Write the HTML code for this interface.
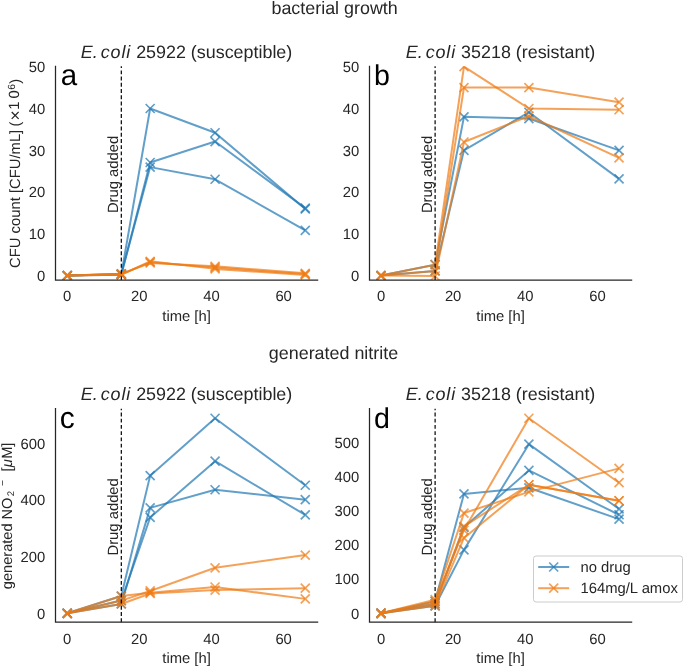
<!DOCTYPE html>
<html><head><meta charset="utf-8"><style>
html,body{margin:0;padding:0;background:#fff;}
svg{display:block;will-change:transform;}
text{font-family:"Liberation Sans", sans-serif;}
</style></head><body>
<svg width="685" height="667" viewBox="0 0 685 667" font-family='"Liberation Sans", sans-serif' text-rendering="geometricPrecision">
<rect width="685" height="667" fill="#fff"/>
<clipPath id="clipa"><rect x="55.5" y="66.3" width="262.1" height="213.8"/></clipPath>
<g clip-path="url(#clipa)">
<path d="M67.20,275.58 L121.31,274.32 L150.16,108.48 L215.09,132.77 L305.26,208.99" fill="none" stroke="#1f77b4" stroke-opacity="0.7" stroke-width="2.0" stroke-linejoin="round" stroke-linecap="butt"/>
<path d="M62.70,271.08L71.70,280.08M62.70,280.08L71.70,271.08M116.81,269.82L125.81,278.82M116.81,278.82L125.81,269.82M145.66,103.98L154.66,112.98M145.66,112.98L154.66,103.98M210.59,128.27L219.59,137.27M210.59,137.27L219.59,128.27M300.76,204.49L309.76,213.49M300.76,213.49L309.76,204.49" fill="none" stroke="#1f77b4" stroke-opacity="0.7" stroke-width="1.7" stroke-linecap="butt"/>
<path d="M67.20,275.58 L121.31,274.74 L150.16,162.51 L215.09,141.57 L305.26,208.15" fill="none" stroke="#1f77b4" stroke-opacity="0.7" stroke-width="2.0" stroke-linejoin="round" stroke-linecap="butt"/>
<path d="M62.70,271.08L71.70,280.08M62.70,280.08L71.70,271.08M116.81,270.24L125.81,279.24M116.81,279.24L125.81,270.24M145.66,158.01L154.66,167.01M145.66,167.01L154.66,158.01M210.59,137.07L219.59,146.07M210.59,146.07L219.59,137.07M300.76,203.65L309.76,212.65M300.76,212.65L309.76,203.65" fill="none" stroke="#1f77b4" stroke-opacity="0.7" stroke-width="1.7" stroke-linecap="butt"/>
<path d="M67.20,275.58 L121.31,273.91 L150.16,167.11 L215.09,179.26 L305.26,230.35" fill="none" stroke="#1f77b4" stroke-opacity="0.7" stroke-width="2.0" stroke-linejoin="round" stroke-linecap="butt"/>
<path d="M62.70,271.08L71.70,280.08M62.70,280.08L71.70,271.08M116.81,269.41L125.81,278.41M116.81,278.41L125.81,269.41M145.66,162.61L154.66,171.61M145.66,171.61L154.66,162.61M210.59,174.76L219.59,183.76M210.59,183.76L219.59,174.76M300.76,225.85L309.76,234.85M300.76,234.85L309.76,225.85" fill="none" stroke="#1f77b4" stroke-opacity="0.7" stroke-width="1.7" stroke-linecap="butt"/>
<path d="M67.20,275.58 L121.31,274.32 L150.16,262.18 L215.09,267.62 L305.26,274.12" fill="none" stroke="#f07a12" stroke-opacity="0.7" stroke-width="2.0" stroke-linejoin="round" stroke-linecap="butt"/>
<path d="M62.70,271.08L71.70,280.08M62.70,280.08L71.70,271.08M116.81,269.82L125.81,278.82M116.81,278.82L125.81,269.82M145.66,257.68L154.66,266.68M145.66,266.68L154.66,257.68M210.59,263.12L219.59,272.12M210.59,272.12L219.59,263.12M300.76,269.62L309.76,278.62M300.76,278.62L309.76,269.62" fill="none" stroke="#f07a12" stroke-opacity="0.7" stroke-width="1.7" stroke-linecap="butt"/>
<path d="M67.20,275.58 L121.31,274.74 L150.16,261.34 L215.09,268.88 L305.26,274.95" fill="none" stroke="#f07a12" stroke-opacity="0.7" stroke-width="2.0" stroke-linejoin="round" stroke-linecap="butt"/>
<path d="M62.70,271.08L71.70,280.08M62.70,280.08L71.70,271.08M116.81,270.24L125.81,279.24M116.81,279.24L125.81,270.24M145.66,256.84L154.66,265.84M145.66,265.84L154.66,256.84M210.59,264.38L219.59,273.38M210.59,273.38L219.59,264.38M300.76,270.45L309.76,279.45M300.76,279.45L309.76,270.45" fill="none" stroke="#f07a12" stroke-opacity="0.7" stroke-width="1.7" stroke-linecap="butt"/>
<path d="M67.20,275.58 L121.31,273.91 L150.16,263.02 L215.09,266.37 L305.26,273.28" fill="none" stroke="#f07a12" stroke-opacity="0.7" stroke-width="2.0" stroke-linejoin="round" stroke-linecap="butt"/>
<path d="M62.70,271.08L71.70,280.08M62.70,280.08L71.70,271.08M116.81,269.41L125.81,278.41M116.81,278.41L125.81,269.41M145.66,258.52L154.66,267.52M145.66,267.52L154.66,258.52M210.59,261.87L219.59,270.87M210.59,270.87L219.59,261.87M300.76,268.78L309.76,277.78M300.76,277.78L309.76,268.78" fill="none" stroke="#f07a12" stroke-opacity="0.7" stroke-width="1.7" stroke-linecap="butt"/>
</g>
<line x1="121.31" y1="280.1" x2="121.31" y2="66.3" stroke="#000" stroke-width="1.2" stroke-dasharray="3.9 2.337"/>
<path d="M55.5,66.3 L55.5,280.1 L317.6,280.1" fill="none" stroke="#262626" stroke-width="1.25" stroke-linecap="square"/>
<text x="67.20" y="301.40" text-anchor="middle" font-size="14.8" fill="#262626">0</text>
<text x="139.34" y="301.40" text-anchor="middle" font-size="14.8" fill="#262626">20</text>
<text x="211.48" y="301.40" text-anchor="middle" font-size="14.8" fill="#262626">40</text>
<text x="283.62" y="301.40" text-anchor="middle" font-size="14.8" fill="#262626">60</text>
<text x="186.55" y="320.80" text-anchor="middle" font-size="14.8" fill="#262626">time [h]</text>
<text x="45.20" y="281.20" text-anchor="end" font-size="14.8" fill="#262626">0</text>
<text x="45.20" y="239.32" text-anchor="end" font-size="14.8" fill="#262626">10</text>
<text x="45.20" y="197.44" text-anchor="end" font-size="14.8" fill="#262626">20</text>
<text x="45.20" y="155.56" text-anchor="end" font-size="14.8" fill="#262626">30</text>
<text x="45.20" y="113.68" text-anchor="end" font-size="14.8" fill="#262626">40</text>
<text x="45.20" y="71.80" text-anchor="end" font-size="14.8" fill="#262626">50</text>
<text x="60.80" y="84.90" font-size="29.5" fill="#000">a</text>
<text x="186.55" y="57.70" text-anchor="middle" font-size="17.9" fill="#262626"><tspan font-style="italic">E.</tspan><tspan font-style="italic" dx="3" letter-spacing="0.9">coli</tspan> 25922 (susceptible)</text>
<text transform="translate(117.91,213.10) rotate(-90)" font-size="14.8" fill="#262626">Drug added</text>
<clipPath id="clipb"><rect x="369.5" y="66.3" width="262.1" height="213.8"/></clipPath>
<g clip-path="url(#clipb)">
<path d="M381.00,275.58 L435.11,264.69 L463.96,116.86 L528.89,118.53 L619.06,150.36" fill="none" stroke="#1f77b4" stroke-opacity="0.7" stroke-width="2.0" stroke-linejoin="round" stroke-linecap="butt"/>
<path d="M376.50,271.08L385.50,280.08M376.50,280.08L385.50,271.08M430.61,260.19L439.61,269.19M430.61,269.19L439.61,260.19M459.46,112.36L468.46,121.36M459.46,121.36L468.46,112.36M524.39,114.03L533.39,123.03M524.39,123.03L533.39,114.03M614.56,145.86L623.56,154.86M614.56,154.86L623.56,145.86" fill="none" stroke="#1f77b4" stroke-opacity="0.7" stroke-width="1.7" stroke-linecap="butt"/>
<path d="M381.00,275.58 L435.11,270.97 L463.96,150.36 L528.89,112.25 L619.06,178.84" fill="none" stroke="#1f77b4" stroke-opacity="0.7" stroke-width="2.0" stroke-linejoin="round" stroke-linecap="butt"/>
<path d="M376.50,271.08L385.50,280.08M376.50,280.08L385.50,271.08M430.61,266.47L439.61,275.47M430.61,275.47L439.61,266.47M459.46,145.86L468.46,154.86M459.46,154.86L468.46,145.86M524.39,107.75L533.39,116.75M524.39,116.75L533.39,107.75M614.56,174.34L623.56,183.34M614.56,183.34L623.56,174.34" fill="none" stroke="#1f77b4" stroke-opacity="0.7" stroke-width="1.7" stroke-linecap="butt"/>
<path d="M381.00,275.58 L435.11,264.69 L463.96,66.60 L528.89,108.48 L619.06,109.74" fill="none" stroke="#f07a12" stroke-opacity="0.7" stroke-width="2.0" stroke-linejoin="round" stroke-linecap="butt"/>
<path d="M376.50,271.08L385.50,280.08M376.50,280.08L385.50,271.08M430.61,260.19L439.61,269.19M430.61,269.19L439.61,260.19M459.46,62.10L468.46,71.10M459.46,71.10L468.46,62.10M524.39,103.98L533.39,112.98M524.39,112.98L533.39,103.98M614.56,105.24L623.56,114.24M614.56,114.24L623.56,105.24" fill="none" stroke="#f07a12" stroke-opacity="0.7" stroke-width="1.7" stroke-linecap="butt"/>
<path d="M381.00,275.58 L435.11,270.97 L463.96,87.54 L528.89,87.54 L619.06,102.20" fill="none" stroke="#f07a12" stroke-opacity="0.7" stroke-width="2.0" stroke-linejoin="round" stroke-linecap="butt"/>
<path d="M376.50,271.08L385.50,280.08M376.50,280.08L385.50,271.08M430.61,266.47L439.61,275.47M430.61,275.47L439.61,266.47M459.46,83.04L468.46,92.04M459.46,92.04L468.46,83.04M524.39,83.04L533.39,92.04M524.39,92.04L533.39,83.04M614.56,97.70L623.56,106.70M614.56,106.70L623.56,97.70" fill="none" stroke="#f07a12" stroke-opacity="0.7" stroke-width="1.7" stroke-linecap="butt"/>
<path d="M381.00,275.58 L435.11,276.00 L463.96,141.98 L528.89,116.02 L619.06,157.90" fill="none" stroke="#f07a12" stroke-opacity="0.7" stroke-width="2.0" stroke-linejoin="round" stroke-linecap="butt"/>
<path d="M376.50,271.08L385.50,280.08M376.50,280.08L385.50,271.08M430.61,271.50L439.61,280.50M430.61,280.50L439.61,271.50M459.46,137.48L468.46,146.48M459.46,146.48L468.46,137.48M524.39,111.52L533.39,120.52M524.39,120.52L533.39,111.52M614.56,153.40L623.56,162.40M614.56,162.40L623.56,153.40" fill="none" stroke="#f07a12" stroke-opacity="0.7" stroke-width="1.7" stroke-linecap="butt"/>
</g>
<line x1="435.11" y1="280.1" x2="435.11" y2="66.3" stroke="#000" stroke-width="1.2" stroke-dasharray="3.9 2.337"/>
<path d="M369.5,66.3 L369.5,280.1 L631.6,280.1" fill="none" stroke="#262626" stroke-width="1.25" stroke-linecap="square"/>
<text x="381.00" y="301.40" text-anchor="middle" font-size="14.8" fill="#262626">0</text>
<text x="453.14" y="301.40" text-anchor="middle" font-size="14.8" fill="#262626">20</text>
<text x="525.28" y="301.40" text-anchor="middle" font-size="14.8" fill="#262626">40</text>
<text x="597.42" y="301.40" text-anchor="middle" font-size="14.8" fill="#262626">60</text>
<text x="500.55" y="320.80" text-anchor="middle" font-size="14.8" fill="#262626">time [h]</text>
<text x="359.20" y="281.20" text-anchor="end" font-size="14.8" fill="#262626">0</text>
<text x="359.20" y="239.32" text-anchor="end" font-size="14.8" fill="#262626">10</text>
<text x="359.20" y="197.44" text-anchor="end" font-size="14.8" fill="#262626">20</text>
<text x="359.20" y="155.56" text-anchor="end" font-size="14.8" fill="#262626">30</text>
<text x="359.20" y="113.68" text-anchor="end" font-size="14.8" fill="#262626">40</text>
<text x="359.20" y="71.80" text-anchor="end" font-size="14.8" fill="#262626">50</text>
<text x="374.10" y="84.90" font-size="28.6" fill="#000">b</text>
<text x="500.55" y="57.70" text-anchor="middle" font-size="17.9" fill="#262626"><tspan font-style="italic">E.</tspan><tspan font-style="italic" dx="3" letter-spacing="0.9">coli</tspan> 35218 (resistant)</text>
<text transform="translate(431.71,213.10) rotate(-90)" font-size="14.8" fill="#262626">Drug added</text>
<clipPath id="clipc"><rect x="55.5" y="408.7" width="262.1" height="213.50000000000006"/></clipPath>
<g clip-path="url(#clipc)">
<path d="M67.20,613.30 L121.31,596.06 L150.16,475.63 L215.09,418.24 L305.26,485.24" fill="none" stroke="#1f77b4" stroke-opacity="0.7" stroke-width="2.0" stroke-linejoin="round" stroke-linecap="butt"/>
<path d="M62.70,608.80L71.70,617.80M62.70,617.80L71.70,608.80M116.81,591.56L125.81,600.56M116.81,600.56L125.81,591.56M145.66,471.13L154.66,480.13M145.66,480.13L154.66,471.13M210.59,413.74L219.59,422.74M210.59,422.74L219.59,413.74M300.76,480.74L309.76,489.74M300.76,489.74L309.76,480.74" fill="none" stroke="#1f77b4" stroke-opacity="0.7" stroke-width="1.7" stroke-linecap="butt"/>
<path d="M67.20,613.30 L121.31,600.58 L150.16,517.46 L215.09,461.21 L305.26,514.92" fill="none" stroke="#1f77b4" stroke-opacity="0.7" stroke-width="2.0" stroke-linejoin="round" stroke-linecap="butt"/>
<path d="M62.70,608.80L71.70,617.80M62.70,617.80L71.70,608.80M116.81,596.08L125.81,605.08M116.81,605.08L125.81,596.08M145.66,512.96L154.66,521.96M145.66,521.96L154.66,512.96M210.59,456.71L219.59,465.71M210.59,465.71L219.59,456.71M300.76,510.42L309.76,519.42M300.76,519.42L309.76,510.42" fill="none" stroke="#1f77b4" stroke-opacity="0.7" stroke-width="1.7" stroke-linecap="butt"/>
<path d="M67.20,613.30 L121.31,603.97 L150.16,507.85 L215.09,489.76 L305.26,499.65" fill="none" stroke="#1f77b4" stroke-opacity="0.7" stroke-width="2.0" stroke-linejoin="round" stroke-linecap="butt"/>
<path d="M62.70,608.80L71.70,617.80M62.70,617.80L71.70,608.80M116.81,599.47L125.81,608.47M116.81,608.47L125.81,599.47M145.66,503.35L154.66,512.35M145.66,512.35L154.66,503.35M210.59,485.26L219.59,494.26M210.59,494.26L219.59,485.26M300.76,495.15L309.76,504.15M300.76,504.15L309.76,495.15" fill="none" stroke="#1f77b4" stroke-opacity="0.7" stroke-width="1.7" stroke-linecap="butt"/>
<path d="M67.20,613.30 L121.31,600.58 L150.16,590.97 L215.09,567.79 L305.26,555.06" fill="none" stroke="#f07a12" stroke-opacity="0.7" stroke-width="2.0" stroke-linejoin="round" stroke-linecap="butt"/>
<path d="M62.70,608.80L71.70,617.80M62.70,617.80L71.70,608.80M116.81,596.08L125.81,605.08M116.81,605.08L125.81,596.08M145.66,586.47L154.66,595.47M145.66,595.47L154.66,586.47M210.59,563.29L219.59,572.29M210.59,572.29L219.59,563.29M300.76,550.56L309.76,559.56M300.76,559.56L309.76,550.56" fill="none" stroke="#f07a12" stroke-opacity="0.7" stroke-width="1.7" stroke-linecap="butt"/>
<path d="M67.20,613.30 L121.31,596.06 L150.16,592.66 L215.09,587.01 L305.26,598.88" fill="none" stroke="#f07a12" stroke-opacity="0.7" stroke-width="2.0" stroke-linejoin="round" stroke-linecap="butt"/>
<path d="M62.70,608.80L71.70,617.80M62.70,617.80L71.70,608.80M116.81,591.56L125.81,600.56M116.81,600.56L125.81,591.56M145.66,588.16L154.66,597.16M145.66,597.16L154.66,588.16M210.59,582.51L219.59,591.51M210.59,591.51L219.59,582.51M300.76,594.38L309.76,603.38M300.76,603.38L309.76,594.38" fill="none" stroke="#f07a12" stroke-opacity="0.7" stroke-width="1.7" stroke-linecap="butt"/>
<path d="M67.20,613.30 L121.31,603.97 L150.16,593.51 L215.09,590.12 L305.26,588.14" fill="none" stroke="#f07a12" stroke-opacity="0.7" stroke-width="2.0" stroke-linejoin="round" stroke-linecap="butt"/>
<path d="M62.70,608.80L71.70,617.80M62.70,617.80L71.70,608.80M116.81,599.47L125.81,608.47M116.81,608.47L125.81,599.47M145.66,589.01L154.66,598.01M145.66,598.01L154.66,589.01M210.59,585.62L219.59,594.62M210.59,594.62L219.59,585.62M300.76,583.64L309.76,592.64M300.76,592.64L309.76,583.64" fill="none" stroke="#f07a12" stroke-opacity="0.7" stroke-width="1.7" stroke-linecap="butt"/>
</g>
<line x1="121.31" y1="622.2" x2="121.31" y2="408.7" stroke="#000" stroke-width="1.2" stroke-dasharray="3.9 2.337"/>
<path d="M55.5,408.7 L55.5,622.2 L317.6,622.2" fill="none" stroke="#262626" stroke-width="1.25" stroke-linecap="square"/>
<text x="67.20" y="643.50" text-anchor="middle" font-size="14.8" fill="#262626">0</text>
<text x="139.34" y="643.50" text-anchor="middle" font-size="14.8" fill="#262626">20</text>
<text x="211.48" y="643.50" text-anchor="middle" font-size="14.8" fill="#262626">40</text>
<text x="283.62" y="643.50" text-anchor="middle" font-size="14.8" fill="#262626">60</text>
<text x="186.55" y="662.90" text-anchor="middle" font-size="14.8" fill="#262626">time [h]</text>
<text x="45.20" y="618.50" text-anchor="end" font-size="14.8" fill="#262626">0</text>
<text x="45.20" y="561.96" text-anchor="end" font-size="14.8" fill="#262626">200</text>
<text x="45.20" y="505.42" text-anchor="end" font-size="14.8" fill="#262626">400</text>
<text x="45.20" y="448.88" text-anchor="end" font-size="14.8" fill="#262626">600</text>
<text x="59.80" y="427.60" font-size="30" fill="#000">c</text>
<text x="186.55" y="400.10" text-anchor="middle" font-size="17.9" fill="#262626"><tspan font-style="italic">E.</tspan><tspan font-style="italic" dx="3" letter-spacing="0.9">coli</tspan> 25922 (susceptible)</text>
<text transform="translate(117.91,555.50) rotate(-90)" font-size="14.8" fill="#262626">Drug added</text>
<clipPath id="clipd"><rect x="369.5" y="408.7" width="262.1" height="213.50000000000006"/></clipPath>
<g clip-path="url(#clipd)">
<path d="M381.00,613.30 L435.11,601.37 L463.96,493.95 L528.89,487.81 L619.06,519.18" fill="none" stroke="#1f77b4" stroke-opacity="0.7" stroke-width="2.0" stroke-linejoin="round" stroke-linecap="butt"/>
<path d="M376.50,608.80L385.50,617.80M376.50,617.80L385.50,608.80M430.61,596.87L439.61,605.87M430.61,605.87L439.61,596.87M459.46,489.45L468.46,498.45M459.46,498.45L468.46,489.45M524.39,483.31L533.39,492.31M524.39,492.31L533.39,483.31M614.56,514.68L623.56,523.68M614.56,523.68L623.56,514.68" fill="none" stroke="#1f77b4" stroke-opacity="0.7" stroke-width="1.7" stroke-linecap="butt"/>
<path d="M381.00,613.30 L435.11,603.75 L463.96,527.37 L528.89,470.42 L619.06,514.75" fill="none" stroke="#1f77b4" stroke-opacity="0.7" stroke-width="2.0" stroke-linejoin="round" stroke-linecap="butt"/>
<path d="M376.50,608.80L385.50,617.80M376.50,617.80L385.50,608.80M430.61,599.25L439.61,608.25M430.61,608.25L439.61,599.25M459.46,522.87L468.46,531.87M459.46,531.87L468.46,522.87M524.39,465.92L533.39,474.92M524.39,474.92L533.39,465.92M614.56,510.25L623.56,519.25M614.56,519.25L623.56,510.25" fill="none" stroke="#1f77b4" stroke-opacity="0.7" stroke-width="1.7" stroke-linecap="butt"/>
<path d="M381.00,613.30 L435.11,605.80 L463.96,549.87 L528.89,444.16 L619.06,508.95" fill="none" stroke="#1f77b4" stroke-opacity="0.7" stroke-width="2.0" stroke-linejoin="round" stroke-linecap="butt"/>
<path d="M376.50,608.80L385.50,617.80M376.50,617.80L385.50,608.80M430.61,601.30L439.61,610.30M430.61,610.30L439.61,601.30M459.46,545.37L468.46,554.37M459.46,554.37L468.46,545.37M524.39,439.66L533.39,448.66M524.39,448.66L533.39,439.66M614.56,504.45L623.56,513.45M614.56,513.45L623.56,504.45" fill="none" stroke="#1f77b4" stroke-opacity="0.7" stroke-width="1.7" stroke-linecap="butt"/>
<path d="M381.00,613.30 L435.11,601.37 L463.96,530.10 L528.89,418.25 L619.06,482.70" fill="none" stroke="#f07a12" stroke-opacity="0.7" stroke-width="2.0" stroke-linejoin="round" stroke-linecap="butt"/>
<path d="M376.50,608.80L385.50,617.80M376.50,617.80L385.50,608.80M430.61,596.87L439.61,605.87M430.61,605.87L439.61,596.87M459.46,525.60L468.46,534.60M459.46,534.60L468.46,525.60M524.39,413.75L533.39,422.75M524.39,422.75L533.39,413.75M614.56,478.20L623.56,487.20M614.56,487.20L623.56,478.20" fill="none" stroke="#f07a12" stroke-opacity="0.7" stroke-width="1.7" stroke-linecap="butt"/>
<path d="M381.00,613.30 L435.11,599.66 L463.96,513.05 L528.89,491.90 L619.06,468.37" fill="none" stroke="#f07a12" stroke-opacity="0.7" stroke-width="2.0" stroke-linejoin="round" stroke-linecap="butt"/>
<path d="M376.50,608.80L385.50,617.80M376.50,617.80L385.50,608.80M430.61,595.16L439.61,604.16M430.61,604.16L439.61,595.16M459.46,508.55L468.46,517.55M459.46,517.55L468.46,508.55M524.39,487.40L533.39,496.40M524.39,496.40L533.39,487.40M614.56,463.87L623.56,472.87M614.56,472.87L623.56,463.87" fill="none" stroke="#f07a12" stroke-opacity="0.7" stroke-width="1.7" stroke-linecap="butt"/>
<path d="M381.00,613.30 L435.11,603.75 L463.96,526.34 L528.89,484.74 L619.06,500.77" fill="none" stroke="#f07a12" stroke-opacity="0.7" stroke-width="2.0" stroke-linejoin="round" stroke-linecap="butt"/>
<path d="M376.50,608.80L385.50,617.80M376.50,617.80L385.50,608.80M430.61,599.25L439.61,608.25M430.61,608.25L439.61,599.25M459.46,521.84L468.46,530.84M459.46,530.84L468.46,521.84M524.39,480.24L533.39,489.24M524.39,489.24L533.39,480.24M614.56,496.27L623.56,505.27M614.56,505.27L623.56,496.27" fill="none" stroke="#f07a12" stroke-opacity="0.7" stroke-width="1.7" stroke-linecap="butt"/>
<path d="M381.00,613.30 L435.11,605.80 L463.96,537.94 L528.89,484.74 L619.06,500.77" fill="none" stroke="#f07a12" stroke-opacity="0.7" stroke-width="2.0" stroke-linejoin="round" stroke-linecap="butt"/>
<path d="M376.50,608.80L385.50,617.80M376.50,617.80L385.50,608.80M430.61,601.30L439.61,610.30M430.61,610.30L439.61,601.30M459.46,533.44L468.46,542.44M459.46,542.44L468.46,533.44M524.39,480.24L533.39,489.24M524.39,489.24L533.39,480.24M614.56,496.27L623.56,505.27M614.56,505.27L623.56,496.27" fill="none" stroke="#f07a12" stroke-opacity="0.7" stroke-width="1.7" stroke-linecap="butt"/>
</g>
<line x1="435.11" y1="622.2" x2="435.11" y2="408.7" stroke="#000" stroke-width="1.2" stroke-dasharray="3.9 2.337"/>
<path d="M369.5,408.7 L369.5,622.2 L631.6,622.2" fill="none" stroke="#262626" stroke-width="1.25" stroke-linecap="square"/>
<text x="381.00" y="643.50" text-anchor="middle" font-size="14.8" fill="#262626">0</text>
<text x="453.14" y="643.50" text-anchor="middle" font-size="14.8" fill="#262626">20</text>
<text x="525.28" y="643.50" text-anchor="middle" font-size="14.8" fill="#262626">40</text>
<text x="597.42" y="643.50" text-anchor="middle" font-size="14.8" fill="#262626">60</text>
<text x="500.55" y="662.90" text-anchor="middle" font-size="14.8" fill="#262626">time [h]</text>
<text x="359.20" y="618.50" text-anchor="end" font-size="14.8" fill="#262626">0</text>
<text x="359.20" y="584.40" text-anchor="end" font-size="14.8" fill="#262626">100</text>
<text x="359.20" y="550.30" text-anchor="end" font-size="14.8" fill="#262626">200</text>
<text x="359.20" y="516.20" text-anchor="end" font-size="14.8" fill="#262626">300</text>
<text x="359.20" y="482.10" text-anchor="end" font-size="14.8" fill="#262626">400</text>
<text x="359.20" y="448.00" text-anchor="end" font-size="14.8" fill="#262626">500</text>
<text x="373.90" y="427.90" font-size="28.6" fill="#000">d</text>
<text x="500.55" y="400.10" text-anchor="middle" font-size="17.9" fill="#262626"><tspan font-style="italic">E.</tspan><tspan font-style="italic" dx="3" letter-spacing="0.9">coli</tspan> 35218 (resistant)</text>
<text transform="translate(431.71,555.50) rotate(-90)" font-size="14.8" fill="#262626">Drug added</text>
<text transform="translate(20.00,267.90) rotate(-90)" text-anchor="start" font-size="14.8" fill="#262626">CFU count [CFU/mL]</text>
<text transform="translate(19.90,124.00) rotate(-90)" text-anchor="middle" font-size="14.8" fill="#262626">(</text>
<text transform="translate(21.40,115.45) rotate(-90)" text-anchor="middle" font-size="17.5" fill="#262626">×</text>
<text transform="translate(19.00,105.65) rotate(-90)" text-anchor="middle" font-size="14.8" fill="#262626">1</text>
<text transform="translate(19.00,94.50) rotate(-90)" text-anchor="middle" font-size="14.8" fill="#262626">0</text>
<text transform="translate(14.90,86.85) rotate(-90)" text-anchor="middle" font-size="10.3" fill="#262626">6</text>
<text transform="translate(19.90,81.40) rotate(-90)" text-anchor="middle" font-size="14.8" fill="#262626">)</text>
<text transform="translate(12.00,589.20) rotate(-90)" text-anchor="start" font-size="14.6" fill="#262626">generated NO</text>
<text transform="translate(14.40,493.70) rotate(-90)" text-anchor="middle" font-size="9.6" fill="#262626">2</text>
<text transform="translate(6.30,482.90) rotate(-90)" text-anchor="middle" font-size="10.3" fill="#262626">−</text>
<text transform="translate(12.00,469.40) rotate(-90)" text-anchor="middle" font-size="14.8" fill="#262626">[</text>
<text transform="translate(12.00,463.10) rotate(-90)" text-anchor="middle" font-size="14.8" fill="#262626" font-style="italic">μ</text>
<text transform="translate(12.00,452.60) rotate(-90)" text-anchor="middle" font-size="14.8" fill="#262626">M</text>
<text transform="translate(12.00,444.80) rotate(-90)" text-anchor="middle" font-size="14.8" fill="#262626">]</text>
<text x="334.6" y="13.5" text-anchor="middle" font-size="17.9" fill="#262626">bacterial growth</text>
<text x="333.5" y="359.2" text-anchor="middle" font-size="17.9" fill="#262626">generated nitrite</text>
<rect x="533.5" y="556" width="149" height="46" rx="2.5" fill="#fff" fill-opacity="0.8" stroke="#cccccc" stroke-width="1"/>
<line x1="538.2" y1="567.0" x2="569.2" y2="567.0" stroke="#1f77b4" stroke-opacity="0.7" stroke-width="2.0"/>
<path d="M549.2,562.5L558.2,571.5M549.2,571.5L558.2,562.5" stroke="#1f77b4" stroke-opacity="0.7" stroke-width="1.7"/>
<text x="580.5" y="572.2" font-size="14.8" fill="#262626">no drug</text>
<line x1="538.2" y1="588.2" x2="569.2" y2="588.2" stroke="#f07a12" stroke-opacity="0.7" stroke-width="2.0"/>
<path d="M549.2,583.7L558.2,592.7M549.2,592.7L558.2,583.7" stroke="#f07a12" stroke-opacity="0.7" stroke-width="1.7"/>
<text x="580.5" y="593.4000000000001" font-size="14.8" fill="#262626">164mg/L amox</text>
</svg></body></html>
